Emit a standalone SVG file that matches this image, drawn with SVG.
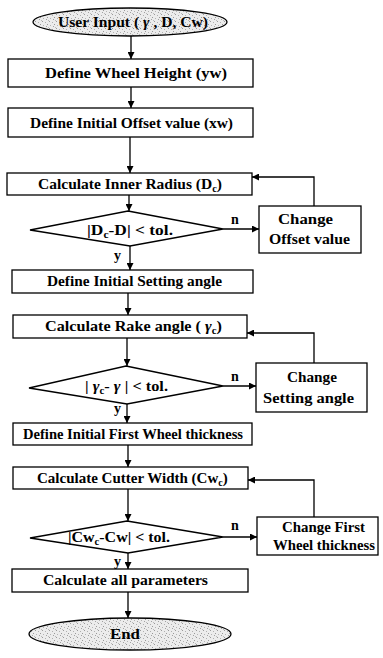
<svg xmlns="http://www.w3.org/2000/svg" width="383" height="658" viewBox="0 0 383 658">
  <defs>
    <!-- grainy gray stipple used inside the terminal ovals -->
    <pattern id="stipple" width="7" height="7" patternUnits="userSpaceOnUse">
      <rect width="7" height="7" fill="#ececec"/>
      <rect x="0" y="0" width="1" height="1" fill="#9a9a9a"/>
      <rect x="3" y="1" width="1" height="1" fill="#b0b0b0"/>
      <rect x="5" y="3" width="1" height="1" fill="#999"/>
      <rect x="1" y="4" width="1" height="1" fill="#b4b4b4"/>
      <rect x="4" y="5" width="1" height="1" fill="#a2a2a2"/>
      <rect x="6" y="6" width="1" height="1" fill="#bbb"/>
    </pattern>
    <marker id="arr" viewBox="0 0 10 10" refX="10" refY="5" markerWidth="7" markerHeight="7" markerUnits="userSpaceOnUse" orient="auto">
      <path d="M0,0 L10,5 L0,10 z" fill="#000"/>
    </marker>
  </defs>
  <style>
    rect.box, polygon.dec { fill: #fff; stroke: #000; stroke-width: 1.3; }
    ellipse.term { fill: url(#stipple); stroke: #000; stroke-width: 1.3; }
    .conn line, .conn polyline { fill: none; stroke: #000; stroke-width: 1.3; marker-end: url(#arr); }
    text { font-family: "Liberation Serif", "Times New Roman", serif; font-weight: bold; font-size: 15px; fill: #000; }
    text.lbl { font-size: 14px; }
    .g { font-style: italic; }
  </style>

  <rect width="383" height="658" fill="#fff"/>

  <!-- connectors -->
  <g class="conn" id="connectors">
    <line x1="131" y1="36" x2="131" y2="59"/>
    <line x1="131" y1="87" x2="131" y2="108"/>
    <line x1="130" y1="137" x2="130" y2="173"/>
    <line x1="129" y1="195" x2="129" y2="211"/>
    <line x1="223" y1="229" x2="259" y2="229"/>
    <polyline points="314,206 314,177 252,177"/>
    <line x1="130" y1="246" x2="130" y2="270"/>
    <line x1="128" y1="293" x2="128" y2="315"/>
    <line x1="127" y1="338" x2="127" y2="366"/>
    <line x1="223" y1="386" x2="256" y2="386"/>
    <polyline points="314,363 314,333 247,333"/>
    <line x1="127" y1="404" x2="127" y2="423"/>
    <line x1="128" y1="445" x2="128" y2="467"/>
    <line x1="128" y1="489" x2="128" y2="521"/>
    <line x1="223" y1="537" x2="257" y2="537"/>
    <polyline points="314,517 314,480 248,480"/>
    <line x1="128" y1="553" x2="128" y2="569"/>
    <line x1="128" y1="592" x2="128" y2="618"/>
  </g>

  <!-- branch labels -->
  <g id="branch-labels">
    <text class="lbl" x="231" y="224">n</text>
    <text class="lbl" x="114" y="260">y</text>
    <text class="lbl" x="231" y="381">n</text>
    <text class="lbl" x="114" y="413">y</text>
    <text class="lbl" x="231" y="530">n</text>
    <text class="lbl" x="114" y="566">y</text>
  </g>

  <g id="start">
    <ellipse class="term" cx="130" cy="22" rx="97" ry="14"/>
    <text x="58" y="27" textLength="150" lengthAdjust="spacingAndGlyphs">User Input ( <tspan class="g">γ</tspan> , D, Cw)</text>
  </g>

  <g id="wheel-height">
    <rect class="box" x="8" y="59" width="245" height="28"/>
    <text x="45" y="78" textLength="182" lengthAdjust="spacingAndGlyphs">Define Wheel Height (yw)</text>
  </g>

  <g id="initial-offset">
    <rect class="box" x="8" y="108" width="245" height="29"/>
    <text x="30" y="128" textLength="203" lengthAdjust="spacingAndGlyphs">Define Initial Offset value (xw)</text>
  </g>

  <g id="inner-radius">
    <rect class="box" x="7" y="173" width="245" height="22"/>
    <text x="38" y="189" textLength="184" lengthAdjust="spacingAndGlyphs">Calculate Inner Radius (D<tspan font-size="10" dy="3">c</tspan><tspan dy="-3">)</tspan></text>
  </g>

  <g id="check-radius">
    <polygon class="dec" points="128,211 223,229 130,246 30,230"/>
    <text x="87" y="235" textLength="86" lengthAdjust="spacingAndGlyphs">|D<tspan font-size="10" dy="3">c</tspan><tspan dy="-3">-D| &lt; tol.</tspan></text>
  </g>

  <g id="change-offset">
    <rect class="box" x="259" y="206" width="102" height="47"/>
    <text x="278" y="224" textLength="55" lengthAdjust="spacingAndGlyphs">Change</text>
    <text x="269" y="244" textLength="81" lengthAdjust="spacingAndGlyphs">Offset value</text>
  </g>

  <g id="initial-setting">
    <rect class="box" x="12" y="270" width="241" height="23"/>
    <text x="47" y="286" textLength="175" lengthAdjust="spacingAndGlyphs">Define Initial Setting angle</text>
  </g>

  <g id="rake-angle">
    <rect class="box" x="13" y="315" width="234" height="23"/>
    <text x="45" y="331" textLength="177" lengthAdjust="spacingAndGlyphs">Calculate Rake angle ( <tspan class="g">γ</tspan><tspan font-size="10" dy="3">c</tspan><tspan dy="-3">)</tspan></text>
  </g>

  <g id="check-rake">
    <polygon class="dec" points="126,366 223,386 127,404 29,388"/>
    <text x="85" y="391" textLength="83" lengthAdjust="spacingAndGlyphs">| <tspan class="g">γ</tspan><tspan font-size="10" dy="3">c</tspan><tspan dy="-3">- </tspan><tspan class="g">γ</tspan> | &lt; tol.</text>
  </g>

  <g id="change-setting">
    <rect class="box" x="256" y="363" width="111" height="49"/>
    <text x="287" y="382" textLength="50" lengthAdjust="spacingAndGlyphs">Change</text>
    <text x="263" y="403" textLength="91" lengthAdjust="spacingAndGlyphs">Setting angle</text>
  </g>

  <g id="initial-thickness">
    <rect class="box" x="13" y="423" width="239" height="22"/>
    <text x="23" y="439" textLength="220" lengthAdjust="spacingAndGlyphs">Define Initial First Wheel thickness</text>
  </g>

  <g id="cutter-width">
    <rect class="box" x="13" y="467" width="235" height="22"/>
    <text x="37" y="483">Calculate Cutter Width (Cw<tspan font-size="10" dy="3">c</tspan><tspan dy="-3">)</tspan></text>
  </g>

  <g id="check-width">
    <polygon class="dec" points="127,521 223,537 128,553 30,538"/>
    <text x="68" y="542" textLength="102" lengthAdjust="spacingAndGlyphs">|Cw<tspan font-size="10" dy="3">c</tspan><tspan dy="-3">-Cw| &lt; tol.</tspan></text>
  </g>

  <g id="change-thickness">
    <rect class="box" x="257" y="517" width="121" height="38"/>
    <text x="282" y="532" textLength="83" lengthAdjust="spacingAndGlyphs">Change First</text>
    <text x="273" y="550" textLength="102" lengthAdjust="spacingAndGlyphs">Wheel thickness</text>
  </g>

  <g id="all-parameters">
    <rect class="box" x="12" y="569" width="236" height="23"/>
    <text x="43" y="585" textLength="165" lengthAdjust="spacingAndGlyphs">Calculate all parameters</text>
  </g>

  <g id="end">
    <ellipse class="term" cx="130" cy="634" rx="101" ry="16"/>
    <text x="110" y="639" textLength="30" lengthAdjust="spacingAndGlyphs">End</text>
  </g>
</svg>
